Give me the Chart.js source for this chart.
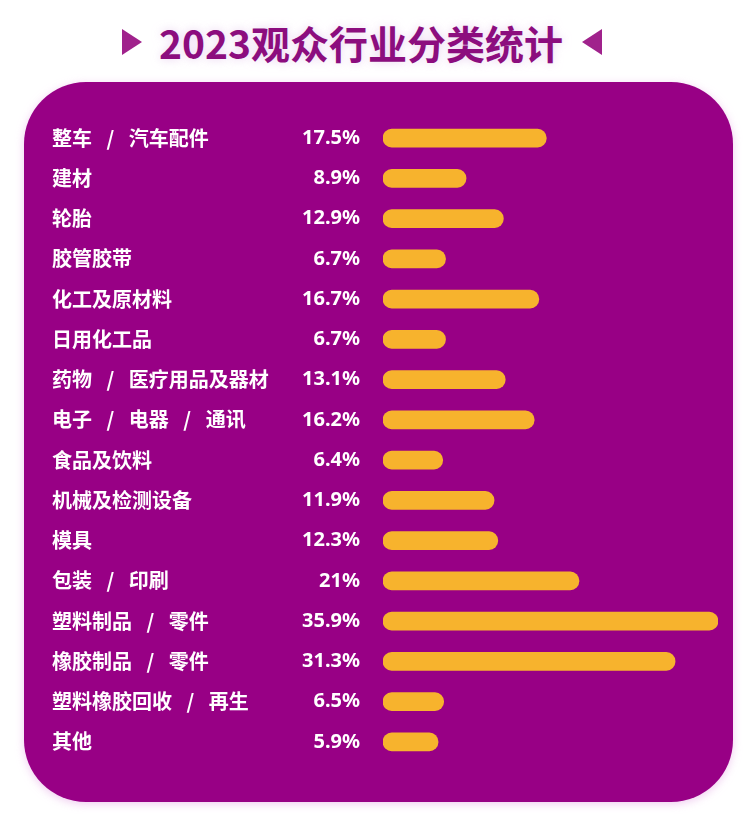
<!DOCTYPE html>
<html>
<head>
<meta charset="utf-8">
<script src="https://cdn.jsdelivr.net/npm/chart.js@4/dist/chart.umd.min.js"></script>
<style>
  body { margin: 0; background: #fff; width: 753px; height: 820px; position: relative; overflow: hidden; font-family: "Noto Sans CJK SC", "Noto Sans", sans-serif; }
  .title { position: absolute; left: 0; top: 14px; width: 722px; text-align: center; font-size: 39px; font-weight: 700; color: #8c0d7e; text-shadow: 0 0 10px rgba(220,180,230,0.6); }
  .tri { position: absolute; top: 29px; width: 0; height: 0; border-top: 13px solid transparent; border-bottom: 13px solid transparent; }
  .tri.l { left: 122px; border-left: 20px solid #a0228c; }
  .tri.r { left: 582px; border-right: 20px solid #a0228c; }
  .panel { position: absolute; left: 24px; top: 82px; width: 709px; height: 720px; background: #980085; border-radius: 62px; box-shadow: 0 2px 8px rgba(230,170,230,0.6); }
  .panel canvas { position: absolute; left: 0; top: 0; }
</style>
</head>
<body>
<div class="tri l"></div>
<div class="title">2023观众行业分类统计</div>
<div class="tri r"></div>
<div class="panel"><canvas id="barChart" width="709" height="720"></canvas></div>
<script>
const categories = ['整车 / 汽车配件', '建材', '轮胎', '胶管胶带', '化工及原材料', '日用化工品', '药物 / 医疗用品及器材', '电子 / 电器 / 通讯', '食品及饮料', '机械及检测设备', '模具', '包装 / 印刷', '塑料制品 / 零件', '橡胶制品 / 零件', '塑料橡胶回收 / 再生', '其他'];
const shares = [17.5, 8.9, 12.9, 6.7, 16.7, 6.7, 13.1, 16.2, 6.4, 11.9, 12.3, 21, 35.9, 31.3, 6.5, 5.9];
const shareLabels = ['17.5%', '8.9%', '12.9%', '6.7%', '16.7%', '6.7%', '13.1%', '16.2%', '6.4%', '11.9%', '12.3%', '21%', '35.9%', '31.3%', '6.5%', '5.9%'];

// percentages drawn right-aligned just left of the bars
const pctPlugin = {
    id: 'pct',
    afterDatasetsDraw(chart) {
        const ctx = chart.ctx;
        const yScale = chart.scales.y;
        ctx.save();
        ctx.fillStyle = '#fff';
        ctx.font = 'bold 20px "Noto Sans", sans-serif';
        ctx.textAlign = 'right';
        ctx.textBaseline = 'middle';
        shareLabels.forEach((t, i) => {
            ctx.fillText(t, chart.chartArea.left - 23, yScale.getPixelForValue(i));
        });
        ctx.restore();
    }
};

new Chart(document.getElementById('barChart').getContext('2d'), {
    type: 'bar',
    data: {
        labels: categories,
        datasets: [{ data: shares, backgroundColor: '#f7b32d', borderRadius: 10, borderSkipped: false, barThickness: 18 }]
    },
    options: {
        indexAxis: 'y',
        responsive: false,
        animation: false,
        layout: { padding: { left: 28, top: 36, bottom: 40, right: 15 } },
        scales: {
            x: { display: false, min: 0, max: 35.9 },
            y: {
                grid: { display: false },
                border: { display: false },
                afterFit(scale) { scale.width = 331; },
                ticks: {
                    color: '#fff', crossAlign: 'far', padding: 0,
                    font: { family: '"Noto Sans CJK SC"', size: 20, weight: 'bold' },
                    // wider gaps round the slash, like the original artwork
                    callback: (v, i) => categories[i].split(' / ').join('\u2002 / \u2002')
                }
            }
        },
        plugins: { legend: { display: false }, tooltip: { enabled: false } }
    },
    plugins: [pctPlugin]
});
</script>
</body>
</html>
